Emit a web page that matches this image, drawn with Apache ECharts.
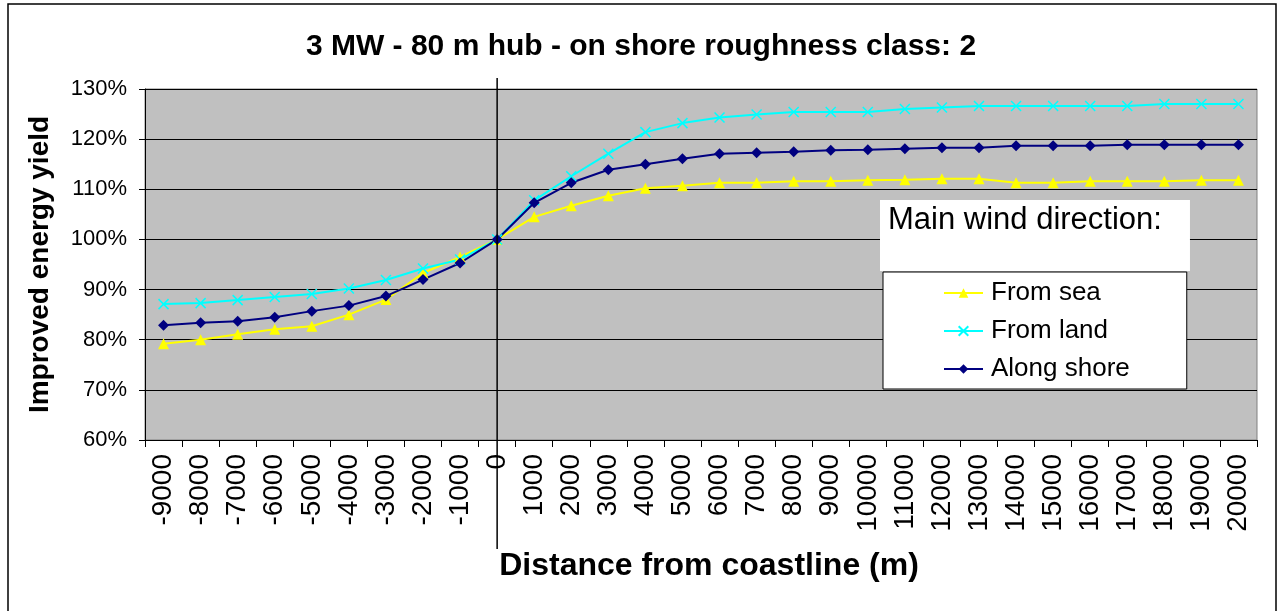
<!DOCTYPE html>
<html>
<head>
<meta charset="utf-8">
<title>3 MW - 80 m hub</title>
<script src="https://cdn.jsdelivr.net/npm/echarts@6/dist/echarts.min.js"></script>
<style>
  html, body { margin: 0; padding: 0; background: #fff; }
  #chart { width: 1282px; height: 611px; }
</style>
</head>
<body>
<div id="chart"></div>
<script>
// distance from coastline (m)
const categories = ['-9000', '-8000', '-7000', '-6000', '-5000', '-4000', '-3000', '-2000', '-1000', '0',
  '1000', '2000', '3000', '4000', '5000', '6000', '7000', '8000', '9000', '10000',
  '11000', '12000', '13000', '14000', '15000', '16000', '17000', '18000', '19000', '20000']

// improved energy yield, in %
const fromSea = [79.2, 80.0, 81.1, 82.1, 82.7, 85.0, 88.0, 93.3, 96.5, 100,
  104.5, 106.7, 108.7, 110.2, 110.7, 111.3, 111.3, 111.6, 111.6, 111.8,
  111.9, 112.1, 112.1, 111.3, 111.3, 111.6, 111.6, 111.6, 111.8, 111.8]
const fromLand = [87.1, 87.3, 87.9, 88.5, 89.1, 90.2, 91.9, 94.2, 96.0, 100,
  107.8, 112.6, 117.1, 121.4, 123.2, 124.3, 124.9, 125.4, 125.4, 125.4,
  126.0, 126.3, 126.6, 126.6, 126.6, 126.6, 126.6, 127.0, 127.0, 127.0]
const alongShore = [82.9, 83.4, 83.7, 84.5, 85.7, 86.8, 88.7, 92.0, 95.3, 100,
  107.3, 111.3, 113.9, 115.0, 116.1, 117.1, 117.3, 117.5, 117.8, 117.9,
  118.1, 118.3, 118.3, 118.7, 118.7, 118.7, 118.9, 118.9, 118.9, 118.9]

const yMin = 60
const yMax = 130
const yStep = 10

const font = '"Liberation Sans", Arial, sans-serif'
const crossSymbol = 'path://M0,0L10,10M10,0L0,10'

const chart = echarts.init(document.getElementById('chart'))

chart.setOption({
  animation: false,
  textStyle: { fontFamily: font, color: '#000' },
  title: [
    {
      text: '3 MW - 80 m hub - on shore roughness class: 2',
      left: 'center',
      top: 27,
      textStyle: { fontFamily: font, fontSize: 30, fontWeight: 'bold', color: '#000' }
    },
    {
      text: 'Main wind direction:',
      left: 880,
      top: 200,
      padding: [5, 28, 35, 8],
      backgroundColor: '#fff',
      textStyle: { fontFamily: font, fontSize: 31, fontWeight: 'normal', color: '#000' }
    }
  ],
  legend: {
    orient: 'vertical',
    left: 883,
    top: 272,
    padding: [8, 57, 7, 60],
    backgroundColor: '#fff',
    borderColor: '#000',
    borderWidth: 1,
    itemWidth: 39,
    itemHeight: 12,
    itemGap: 12,
    textStyle: { fontFamily: font, fontSize: 26, color: '#000', lineHeight: 26, padding: [0, 0, 0, 3] },
    data: ['From sea', 'From land', 'Along shore']
  },
  grid: {
    left: 145,
    top: 89,
    right: 25,
    bottom: 171,
    show: true,
    backgroundColor: '#c0c0c0',
    borderColor: '#808080',
    borderWidth: 1
  },
  xAxis: {
    type: 'category',
    data: categories,
    boundaryGap: true,
    name: 'Distance from coastline (m)',
    nameLocation: 'middle',
    nameGap: 110,
    nameTextStyle: { fontFamily: font, fontSize: 32, fontWeight: 'bold', color: '#000', padding: [0, 0, 0, 16] },
    axisLine: { lineStyle: { color: '#000', width: 1 } },
    axisTick: { show: true, alignWithLabel: false, length: 7, lineStyle: { color: '#000' } },
    axisLabel: { rotate: 90, interval: 0, margin: 14, fontSize: 28, color: '#000', fontFamily: font },
    splitLine: { show: false }
  },
  yAxis: {
    type: 'value',
    min: yMin,
    max: yMax,
    interval: yStep,
    name: 'Improved energy yield',
    nameLocation: 'middle',
    nameGap: 91,
    nameTextStyle: { fontFamily: font, fontSize: 28, fontWeight: 'bold', color: '#000' },
    axisLine: { show: true, lineStyle: { color: '#000', width: 1 } },
    axisTick: { show: true, length: 6, lineStyle: { color: '#000' } },
    axisLabel: { formatter: '{value}%', margin: 18, fontSize: 22, color: '#000', fontFamily: font },
    splitLine: { show: true, lineStyle: { color: '#000', width: 1 } }
  },
  series: [
    {
      name: 'From sea',
      type: 'line',
      data: fromSea,
      symbol: 'triangle',
      symbolSize: 11,
      lineStyle: { color: '#ffff00', width: 2 },
      itemStyle: { color: '#ffff00' }
    },
    {
      name: 'From land',
      type: 'line',
      data: fromLand,
      symbol: crossSymbol,
      symbolSize: 10,
      lineStyle: { color: '#00ffff', width: 2 },
      itemStyle: { color: '#00ffff', borderColor: '#00ffff', borderWidth: 1.5 }
    },
    {
      name: 'Along shore',
      type: 'line',
      data: alongShore,
      symbol: 'diamond',
      symbolSize: 11,
      lineStyle: { color: '#000080', width: 2 },
      itemStyle: { color: '#000080' }
    }
  ]
})

// vertical line through the coastline (0 m), drawn a bit past the plot like the original
const x0 = chart.convertToPixel({ xAxisIndex: 0 }, '0')
chart.setOption({
  graphic: [
    {
      type: 'rect',
      shape: { x: 8, y: 4, width: 1268, height: 620 },
      style: { fill: 'none', stroke: '#000', lineWidth: 1.5 },
      silent: true
    },
    {
      type: 'line',
      shape: { x1: x0, y1: 78, x2: x0, y2: 549 },
      style: { stroke: '#000', lineWidth: 1.5 },
      z: 100,
      silent: true
    }
  ]
})
</script>
</body>
</html>
